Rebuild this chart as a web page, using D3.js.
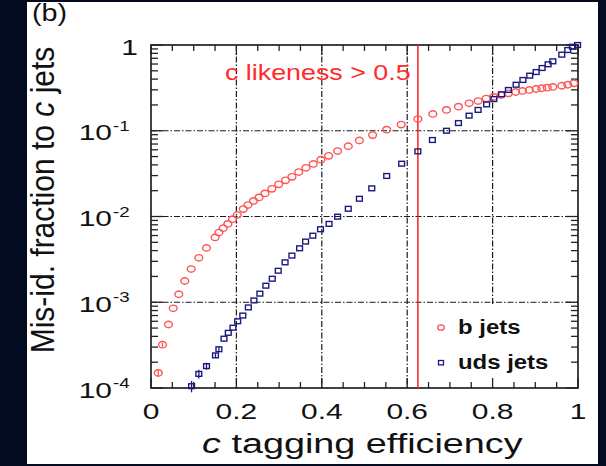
<!DOCTYPE html>
<html>
<head>
<meta charset="utf-8">
<script src="https://cdn.jsdelivr.net/npm/d3@7"></script>
<style>
  html, body { margin: 0; padding: 0; background: #020b1f; }
  svg { display: block; }
  text { font-family: "Liberation Sans", Arial, Helvetica, sans-serif; }
</style>
</head>
<body>
<svg id="chart" width="606" height="466"></svg>
<script>
// c-tagging performance: mis-identification fraction vs. c tagging efficiency
const bEff = [0.017, 0.027, 0.041, 0.052, 0.065, 0.079, 0.094, 0.112, 0.130, 0.150, 0.159, 0.169, 0.180, 0.191, 0.202,
  0.216, 0.227, 0.240, 0.253, 0.267, 0.283, 0.299, 0.315, 0.330, 0.346, 0.363, 0.380, 0.398, 0.416, 0.437, 0.462,
  0.488, 0.519, 0.552, 0.586, 0.625, 0.660, 0.692, 0.720, 0.745, 0.766, 0.785, 0.802, 0.820, 0.837, 0.854, 0.870,
  0.886, 0.902, 0.915, 0.928, 0.941, 0.962, 0.976, 0.990];
const bMisId = [1.5e-4, 3.2e-4, 5.5e-4, 8.5e-4, 1.24e-3, 1.77e-3, 2.44e-3, 3.3e-3, 4.3e-3, 5.7e-3, 6.5e-3, 7.3e-3, 8.2e-3,
  9.3e-3, 0.0104, 0.0122, 0.0136, 0.0152, 0.0167, 0.0186, 0.021, 0.0237, 0.0264, 0.029, 0.033, 0.037, 0.041, 0.046,
  0.051, 0.058, 0.066, 0.077, 0.089, 0.103, 0.118, 0.137, 0.157, 0.175, 0.191, 0.209, 0.222, 0.237, 0.248, 0.261,
  0.273, 0.283, 0.291, 0.299, 0.307, 0.313, 0.318, 0.324, 0.335, 0.344, 0.357];
const bErr = [1.6e-5, 1.8e-5];

const udsEff = [0.095, 0.112, 0.130, 0.151, 0.159, 0.171, 0.181, 0.192, 0.203, 0.215, 0.228, 0.241, 0.255, 0.269, 0.284,
  0.298, 0.314, 0.330, 0.348, 0.362, 0.379, 0.397, 0.417, 0.437, 0.462, 0.488, 0.517, 0.552, 0.587, 0.625, 0.659,
  0.692, 0.720, 0.745, 0.766, 0.786, 0.803, 0.821, 0.837, 0.855, 0.871, 0.887, 0.902, 0.916, 0.930, 0.941, 0.962,
  0.976, 0.987, 0.999];
const udsMisId = [1.05e-4, 1.46e-4, 1.8e-4, 2.4e-4, 2.83e-4, 3.76e-4, 4.4e-4, 5.05e-4, 6.0e-4, 7.0e-4, 8.7e-4, 1.05e-3,
  1.26e-3, 1.56e-3, 1.88e-3, 2.33e-3, 2.92e-3, 3.5e-3, 4.26e-3, 5.1e-3, 5.97e-3, 7.1e-3, 8.2e-3, 9.95e-3, 0.0123,
  0.0161, 0.0213, 0.0297, 0.0413, 0.0575, 0.078, 0.100, 0.123, 0.150, 0.175, 0.203, 0.234, 0.266, 0.299, 0.344,
  0.391, 0.439, 0.484, 0.539, 0.596, 0.645, 0.771, 0.874, 0.955, 1.0];
const udsErr = [1.6e-5, 1.7e-5, 1.7e-5, 1.5e-5, 1.5e-5];

const xTickValues = [0, 0.2, 0.4, 0.6, 0.8, 1];
const xTickLabels = ["0", "0.2", "0.4", "0.6", "0.8", "1"];
const yDecades = [1e-4, 1e-3, 1e-2, 1e-1, 1];
const yTickExponents = ["-4", "-3", "-2", "-1", ""];
const cutEfficiency = 0.625;
const cutLabel = "c likeness > 0.5";
const seriesNames = ["b jets", "uds jets"];

const svg = d3.select("#chart");
const W = 606, H = 466;
const plot = { left: 151, right: 578, top: 45, bottom: 388 };
const SX = 1.36; // horizontal glyph stretch used by the figure's lettering

const x = d3.scaleLinear().domain([0, 1]).range([plot.left, plot.right]);
const y = d3.scaleLog().domain([1e-4, 1]).range([plot.bottom, plot.top]);

const RED_MARK = "#ff5454", BLUE_MARK = "#1a1a7e", RED_LINE = "#ff1e1e";

svg.append("rect").attr("width", W).attr("height", H).attr("fill", "#020b1f");
svg.append("rect").attr("x", 27).attr("y", 2).attr("width", 571).attr("height", 462).attr("fill", "#ffffff");

// stretched text helper
function label(g, txt, px, py, size, opts = {}) {
  const t = g.append("text")
    .attr("transform", `translate(${px},${py}) scale(${opts.sx ?? SX},1)`)
    .attr("font-size", size)
    .attr("fill", opts.fill ?? "#111")
    .attr("text-anchor", opts.anchor ?? "start")
    .attr("font-weight", opts.weight ?? "normal");
  t.text(txt);
  return t;
}

// grid (dash-dot)
const grid = svg.append("g").attr("stroke", "#1a1a1a").attr("stroke-width", 1.2).attr("stroke-dasharray", "6,2,1.5,2");
grid.selectAll("line.gx").data(xTickValues.filter(v => v > 0 && v < 1)).join("line")
  .attr("x1", d => x(d)).attr("x2", d => x(d))
  .attr("y1", plot.top).attr("y2", plot.bottom);
grid.selectAll("line.gy").data(yDecades.filter(v => v > 1e-4 && v < 1)).join("line")
  .attr("x1", plot.left).attr("x2", plot.right)
  .attr("y1", d => y(d)).attr("y2", d => y(d));

// legend background hides the grid behind it
svg.append("rect").attr("x", 424).attr("y", 306).attr("width", 153).attr("height", 81).attr("fill", "#fff");

// axes: bottom/top with minor ticks every 0.05, left/right log ticks
const axes = svg.append("g").attr("stroke", "#222").attr("stroke-width", 1.3);
const xMinor = d3.range(0, 1.0001, 0.05);
xMinor.forEach(v => {
  const major = Math.abs(v * 5 - Math.round(v * 5)) < 1e-6;
  const len = major ? 10 : 6;
  axes.append("line").attr("x1", x(v)).attr("x2", x(v)).attr("y1", plot.bottom).attr("y2", plot.bottom - len);
  axes.append("line").attr("x1", x(v)).attr("x2", x(v)).attr("y1", plot.top).attr("y2", plot.top + len);
});
const yTicksAll = [];
for (let e = -4; e < 0; e++) for (let m = 1; m <= 9; m++) yTicksAll.push({ v: m * Math.pow(10, e), major: m === 1 });
yTicksAll.push({ v: 1, major: true });
yTicksAll.forEach(t => {
  const len = t.major ? 12 : 7;
  axes.append("line").attr("x1", plot.left).attr("x2", plot.left + len).attr("y1", y(t.v)).attr("y2", y(t.v));
  axes.append("line").attr("x1", plot.right).attr("x2", plot.right - len).attr("y1", y(t.v)).attr("y2", y(t.v));
});
svg.append("rect").attr("x", plot.left).attr("y", plot.top)
  .attr("width", plot.right - plot.left).attr("height", plot.bottom - plot.top)
  .attr("fill", "none").attr("stroke", "#222").attr("stroke-width", 1.7);

// cut line
svg.append("line").attr("x1", x(cutEfficiency)).attr("x2", x(cutEfficiency))
  .attr("y1", plot.top).attr("y2", plot.bottom).attr("stroke", RED_LINE).attr("stroke-width", 1.5);

// data
const bData = bEff.map((e, i) => ({ e, v: bMisId[i], err: bErr[i] || 0 }));
const udsData = udsEff.map((e, i) => ({ e, v: udsMisId[i], err: udsErr[i] || 0 }));

function errBars(data, color) {
  svg.append("g").attr("stroke", color).attr("stroke-width", 1.3)
    .selectAll("line").data(data.filter(d => d.err > 0)).join("line")
    .attr("x1", d => x(d.e)).attr("x2", d => x(d.e))
    .attr("y1", d => y(d.v - d.err)).attr("y2", d => y(Math.min(1, d.v + d.err)));
}
errBars(bData, RED_MARK);
errBars(udsData, BLUE_MARK);

svg.append("g").selectAll("ellipse").data(bData).join("ellipse")
  .attr("cx", d => x(d.e)).attr("cy", d => y(d.v)).attr("rx", 3.9).attr("ry", 3.2)
  .attr("fill", "none").attr("stroke", RED_MARK).attr("stroke-width", 1.4);
svg.append("g").selectAll("rect").data(udsData).join("rect")
  .attr("x", d => x(d.e) - 2.9).attr("y", d => y(d.v) - 2.4).attr("width", 5.8).attr("height", 4.8)
  .attr("fill", "none").attr("stroke", BLUE_MARK).attr("stroke-width", 1.4);

// tick labels
const tl = svg.append("g");
xTickValues.forEach((v, i) => label(tl, xTickLabels[i], x(v), 419, 22, { anchor: "middle" }));
yDecades.forEach((v, i) => {
  const py = y(v) + 9.5;
  if (yTickExponents[i] === "") {
    label(tl, "1", 138, py, 22, { anchor: "end" });
  } else {
    label(tl, "10", 112, py, 22, { anchor: "end" });
    label(tl, yTickExponents[i], 113, py - 9.5, 15, { anchor: "start", sx: 1.25 });
  }
});

// titles
const xt = svg.append("text")
  .attr("transform", `translate(202,453) scale(1.4,1)`)
  .attr("font-size", 27).attr("fill", "#111");
xt.append("tspan").attr("font-style", "italic").text("c");
xt.append("tspan").text(" tagging efficiency");

const yt = svg.append("text")
  .attr("transform", `translate(54,200) rotate(-90) scale(1,1.1)`)
  .attr("font-size", 30).attr("text-anchor", "middle").attr("fill", "#111");
yt.append("tspan").text("Mis-id. fraction to ");
yt.append("tspan").attr("font-style", "italic").text("c");
yt.append("tspan").text(" jets");

label(svg, "(b)", 32, 21, 23, { sx: 1.25 });
label(svg, cutLabel, 225, 80, 22, { fill: "#ff2a2a", sx: 1.22 });

// legend
const lg = svg.append("g");
lg.append("ellipse").attr("cx", 441).attr("cy", 327.5).attr("rx", 3.3).attr("ry", 2.7)
  .attr("fill", "none").attr("stroke", RED_MARK).attr("stroke-width", 1.3);
lg.append("rect").attr("x", 438.5).attr("y", 360.5).attr("width", 5).attr("height", 4.4)
  .attr("fill", "none").attr("stroke", BLUE_MARK).attr("stroke-width", 1.3);
label(lg, seriesNames[0], 458, 334, 21, { weight: "bold", sx: 1.14 });
label(lg, seriesNames[1], 458, 369, 21, { weight: "bold", sx: 1.14 });
</script>
</body>
</html>
